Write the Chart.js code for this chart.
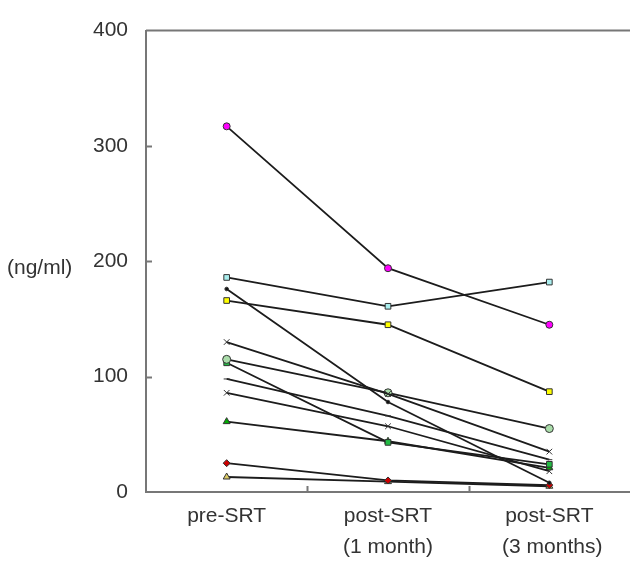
<!DOCTYPE html>
<html>
<head>
<meta charset="utf-8">
<script src="https://cdn.jsdelivr.net/npm/chart.js@4.4.0/dist/chart.umd.min.js"></script>
<style>
  html, body { margin: 0; padding: 0; background: #fff; }
  #wrap { width: 630px; height: 578px; }
</style>
</head>
<body>
<div id="wrap"><canvas id="c" width="630" height="578"></canvas></div>
<script>
// categorias e valores (ng/ml)
const categories = [['pre-SRT'], ['post-SRT', '(1 month)'], ['post-SRT', ' (3 months)']];
const yTicks = [0, 100, 200, 300, 400];

const s1 = [317, 194, 145];
const s2 = [186, 161, 182];
const s3 = [176, 78, 8];
const s4 = [166, 145, 87];
const s5 = [130, 85, 35];
const s6 = [115, 86, 55];
const s7 = [112, 43, 24];
const s8 = [98, 66, 28];
const s9 = [86, 57, 18];
const s10 = [61, 44, 21];
const s11 = [25, 10, 6];
const s12 = [13, 9, 5];

// estilo de cada série: [dados, marcador, cor, raio]
const seriesDefs = [
  [s1, 'circle', '#ff00ff', 3.5],
  [s2, 'rect', '#aaeeee', 4],
  [s3, 'circle', '#111111', 1.8],
  [s4, 'rect', '#ffff00', 4],
  [s5, 'crossRot', '#111111', 4],
  [s6, 'circle', '#aaddaa', 4],
  [s7, 'rect', '#22bb44', 4],
  [s8, 'line', '#111111', 3],
  [s9, 'crossRot', '#111111', 4],
  [s10, 'triangle', '#00aa00', 4],
  [s11, 'rectRot', '#cc0000', 3.5],
  [s12, 'triangle', '#ddcc66', 4]
];

const datasets = seriesDefs.map(d => ({
  data: d[0],
  borderColor: '#1c1c1c',
  borderWidth: 1.8,
  tension: 0,
  pointStyle: d[1],
  pointRadius: d[3],
  pointBackgroundColor: d[2],
  pointBorderColor: '#333',
  pointBorderWidth: 1
}));

const FONT = '"Liberation Sans", Arial, sans-serif';

// marcas internas dos eixos e o rótulo (ng/ml)
const extras = {
  id: 'extras',
  afterDraw(chart) {
    const ctx = chart.ctx;
    const x = chart.scales.x, y = chart.scales.y;
    const area = chart.chartArea;
    ctx.save();
    ctx.strokeStyle = '#777';
    ctx.lineWidth = 2;
    ctx.beginPath();
    ctx.moveTo(area.left, area.top);
    ctx.lineTo(630, area.top);
    ctx.moveTo(area.right, area.bottom);
    ctx.lineTo(630, area.bottom);
    ctx.stroke();
    // ticks do y para dentro
    [100, 200, 300].forEach(v => {
      const py = Math.round(y.getPixelForValue(v)) + 0.5;
      ctx.beginPath();
      ctx.moveTo(area.left, py);
      ctx.lineTo(area.left + 6, py);
      ctx.stroke();
    });
    // ticks do x entre categorias
    for (let i = 0; i < categories.length - 1; i++) {
      const px = Math.round((x.getPixelForTick(i) + x.getPixelForTick(i + 1)) / 2) + 0.5;
      ctx.beginPath();
      ctx.moveTo(px, area.bottom);
      ctx.lineTo(px, area.bottom - 6);
      ctx.stroke();
    }
    ctx.font = '21px ' + FONT;
    ctx.fillStyle = '#333';
    ctx.textAlign = 'left';
    ctx.textBaseline = 'middle';
    ctx.fillText('(ng/ml)', 7, y.getPixelForValue(194));
    ctx.restore();
  }
};

new Chart(document.getElementById('c'), {
  type: 'line',
  data: { labels: categories, datasets: datasets },
  options: {
    responsive: false,
    animation: false,
    layout: { autoPadding: false, padding: { top: 15, right: 0, left: 0, bottom: 0 } },
    plugins: { legend: { display: false }, tooltip: { enabled: false } },
    scales: {
      x: {
        offset: true,
        grid: { display: false, drawTicks: false },
        border: { display: true, color: '#777', width: 2 },
        ticks: {
          color: '#333',
          padding: 9,
          maxRotation: 0,
          font: { family: FONT, size: 21, lineHeight: 1.48 }
        },
        afterFit(scale) { scale.height = 86; }
      },
      y: {
        min: 0,
        max: 400,
        afterBuildTicks(scale) { scale.ticks = yTicks.map(v => ({ value: v })); },
        grid: { display: false, drawTicks: false },
        border: { display: true, color: '#777', width: 2 },
        ticks: {
          color: '#333',
          padding: 18,
          font: { family: FONT, size: 21 }
        },
        afterFit(scale) { scale.width = 146; }
      }
    }
  },
  plugins: [extras]
});
</script>
</body>
</html>
